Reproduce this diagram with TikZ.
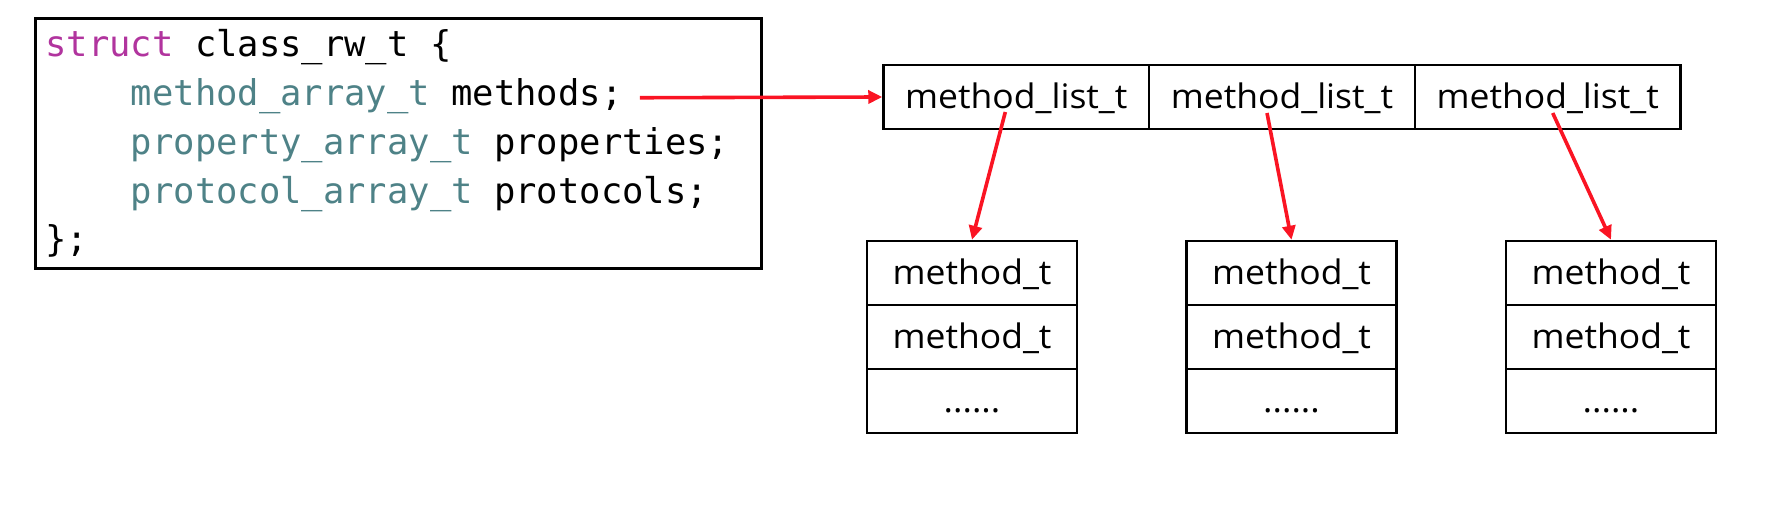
\documentclass[tikz,border=0pt]{standalone}
\usepackage{fontspec}
\usetikzlibrary{arrows.meta}
\newfontfamily\codefont{DejaVu Sans Mono}
\newfontfamily\labelfont[FakeStretch=1.05]{Open Sans}
\definecolor{kw}{RGB}{177,52,158}
\definecolor{ty}{RGB}{78,130,135}
\definecolor{arr}{RGB}{250,20,35}
\begin{document}
\begin{tikzpicture}[x=0.5pt,y=-0.5pt,
  codeline/.style={anchor=base west, inner sep=0pt, font=\codefont\fontsize{17.75pt}{20pt}\selectfont},
  cell/.style={draw, line width=1.2pt, minimum width=132.85pt, minimum height=32pt, inner sep=0pt,
    text height=12pt, text depth=0pt, font=\labelfont\fontsize{16.9pt}{19pt}\selectfont},
  mcell/.style={cell, minimum width=105pt},
  link/.style={arr, line width=1.8pt, -{Triangle[length=7pt,width=6.5pt]}}]
\useasboundingbox (0,0) rectangle (1776,528);
% code box
\node[draw, line width=1.3pt, anchor=north west, minimum width=363pt, minimum height=125pt, inner sep=0pt] (box) at (34,17) {};
\node[codeline] (l1) at (45,57) {\textcolor{kw}{struct} class\_rw\_t \{};
\node[codeline] (l2) at (130.5,105.75) {\textcolor{ty}{method\_array\_t} methods;};
\node[codeline] (l3) at (130.5,154.5) {\textcolor{ty}{property\_array\_t} properties;};
\node[codeline] (l4) at (130.5,203.25) {\textcolor{ty}{protocol\_array\_t} protocols;};
\node[codeline] (l5) at (45,252) {\};};
% method lists
\node[cell] (c1) at (1016.3,97) {method\_list\_t};
\node[cell] (c2) at (1282,97) {method\_list\_t};
\node[cell] (c3) at (1547.7,97) {method\_list\_t};
% method_t boxes
\node[mcell] (a1) at (972,273) {method\_t};
\node[mcell] (a2) at (972,337) {method\_t};
\node[mcell] (a3) at (972,401) {......};
\node[mcell] (b1) at (1291.5,273) {method\_t};
\node[mcell] (b2) at (1291.5,337) {method\_t};
\node[mcell] (b3) at (1291.5,401) {......};
\node[mcell] (d1) at (1611,273) {method\_t};
\node[mcell] (d2) at (1611,337) {method\_t};
\node[mcell] (d3) at (1611,401) {......};
% connectors
\draw[link] ([shift={(17,-8)}]l2.base east) -- (c1.west);
\draw[link] ([shift={(-11,15)}]c1.center) -- (a1.north);
\draw[link] ([shift={(-15,16)}]c2.center) -- (b1.north);
\draw[link] ([shift={(5,16)}]c3.center) -- (d1.north);
\end{tikzpicture}
\end{document}
